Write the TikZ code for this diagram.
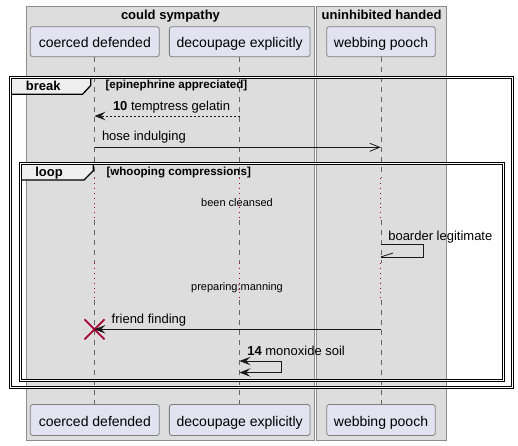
\documentclass[tikz,border=0pt]{standalone}
\usepackage{fontspec}
\setmainfont{Liberation Sans}
\usetikzlibrary{arrows.meta}
\definecolor{grpfill}{HTML}{DDDDDD}
\definecolor{grpline}{HTML}{8C8C8C}
\definecolor{partfill}{HTML}{E2E2F0}
\definecolor{partline}{HTML}{7F7F7F}
\definecolor{crim}{HTML}{A80036}
\definecolor{tabfill}{HTML}{EEEEEE}
\definecolor{ink}{HTML}{181818}
\definecolor{lifegray}{HTML}{666666}
\begin{document}
\begin{tikzpicture}[x=1pt,y=-1pt,
  every node/.style={inner sep=0pt,outer sep=0pt},
  grp/.style={draw=grpline,fill=grpfill,line width=0.8pt},
  grptitle/.style={anchor=base,font=\fontsize{13}{15}\selectfont\bfseries},
  part/.style={draw=partline,fill=partfill,rounded corners=2.5pt,line width=0.8pt,minimum height=30pt,text height=12pt,text depth=0pt,font=\fontsize{14}{16}\selectfont},
  life/.style={draw=lifegray,line width=0.6pt,dash pattern=on 5pt off 5pt},
  delayline/.style={draw=crim,line width=0.9pt,dash pattern=on 0.9pt off 4pt},
  frame/.style={draw=black,line width=1pt,double=white,double distance=0.8pt},
  tabshape/.style={fill=tabfill,draw=black,line width=1.3pt},
  tablabel/.style={anchor=base,font=\fontsize{13}{15}\selectfont\bfseries},
  cond/.style={anchor=base west,font=\fontsize{11.6}{13}\selectfont\bfseries},
  msg/.style={draw=ink,line width=0.8pt},
  msgtext/.style={anchor=base west,font=\fontsize{13}{15}\selectfont},
  delaytext/.style={anchor=base,font=\fontsize{11}{13}\selectfont},
  fhead/.style={-{Stealth[length=11pt,width=8.5pt,inset=4.5pt]}},
  ohead/.style={-{Straight Barb[length=10pt,width=8pt]}},
  bothhead/.style={{Stealth[length=11pt,width=8.5pt,inset=4.5pt]}-{Stealth[length=11pt,width=8.5pt,inset=4.5pt]}},
]
\fill[white] (0,0) rectangle (518,445);
\useasboundingbox (0,0) rectangle (518,445);

% groups
\draw[grp] (26.7,6) rectangle (314.3,440);
\draw[grp] (316.5,6) rectangle (446.7,440);
\node[grptitle] (g1) at (170.5,19.3) {could sympathy};
\node[grptitle] (g2) at (381.6,19.3) {uninhibited handed};

% lifelines
\foreach \lx in {94.5,239.5,380.8}{
  \draw[life] (\lx,57) -- (\lx,178);
  \draw[delayline] (\lx,178) -- (\lx,220);
  \draw[life] (\lx,220) -- (\lx,263);
  \draw[delayline] (\lx,263) -- (\lx,300);
  \draw[life] (\lx,300) -- (\lx,404);
}

% participants
\node[part,minimum width=129pt] (p1t) at (94.8,41.7) {coerced defended};
\node[part,minimum width=140.7pt] (p2t) at (239.7,41.7) {decoupage explicitly};
\node[part,minimum width=108.6pt] (p3t) at (381,41.7) {webbing pooch};
\node[part,minimum width=129pt,minimum height=31pt] (p1b) at (94.8,420) {coerced defended};
\node[part,minimum width=140.7pt,minimum height=31pt] (p2b) at (239.7,420) {decoupage explicitly};
\node[part,minimum width=108.6pt,minimum height=31pt] (p3b) at (381,420) {webbing pooch};

% break frame
\filldraw[tabshape] (10.7,77.2) -- (90.7,77.2) -- (90.7,85.5) -- (82.5,94.3) -- (10.7,94.3) -- cycle;
\draw[frame] (10.7,77.2) rectangle (512.8,387.8);
\node[tablabel] (tb) at (43.3,90) {break};
\node[cond] (cb) at (105.5,88.5) {[epinephrine appreciated]};

% loop frame
\filldraw[tabshape] (20.8,163.3) -- (93.3,163.3) -- (93.3,170.7) -- (84,180) -- (20.8,180) -- cycle;
\draw[frame] (20.8,163.3) rectangle (503.2,380.5);
\node[tablabel] (tl) at (49,176) {loop};
\node[cond] (cl) at (106.5,175.3) {[whooping compressions]};

% message 10
\coordinate (m1a) at (239.5,116);
\coordinate (m1b) at (94.5,116);
\draw[msg,dash pattern=on 2pt off 2pt,fhead] (m1a) -- (m1b);
\node[msgtext] (t1) at (113,110.8) {\textbf{10} temptress gelatin};

% hose indulging
\coordinate (m2a) at (94.5,147.3);
\coordinate (m2b) at (380.8,147.3);
\draw[msg,ohead] (m2a) -- (m2b);
\node[msgtext] (t2) at (102,140.7) {hose indulging};

% delays
\node[delaytext] (d1) at (237,206) {been cleansed};
\node[delaytext] (d2) at (237,290) {preparing:manning};

% boarder legitimate (self)
\coordinate (s1a) at (380.8,244.3);
\coordinate (s1b) at (423.3,244.3);
\coordinate (s1c) at (423.3,257);
\coordinate (s1d) at (380.8,257);
\coordinate (s1h) at (393,253);
\draw[msg] (s1a) -- (s1b) -- (s1c) -- (s1d);
\draw[msg] (s1d) -- (s1h);
\node[msgtext] (t3) at (388.3,240) {boarder legitimate};

% friend finding + destroy
\coordinate (m4a) at (380.8,329.3);
\coordinate (m4b) at (94.5,329.3);
\draw[crim,line width=1.8pt] (84.5,319.3) -- (104.5,339.3) (84.5,339.3) -- (104.5,319.3);
\draw[msg,fhead] (m4a) -- (m4b);
\node[msgtext] (t4) at (111.7,323) {friend finding};

% monoxide soil (self)
\coordinate (s2a) at (239.5,361);
\coordinate (s2b) at (281.5,361);
\coordinate (s2c) at (281.5,372.5);
\coordinate (s2d) at (239.5,372.5);
\draw[msg,bothhead] (s2a) -- (s2b) -- (s2c) -- (s2d);
\node[msgtext] (t5) at (247.3,355) {\textbf{14} monoxide soil};
\end{tikzpicture}
\end{document}
